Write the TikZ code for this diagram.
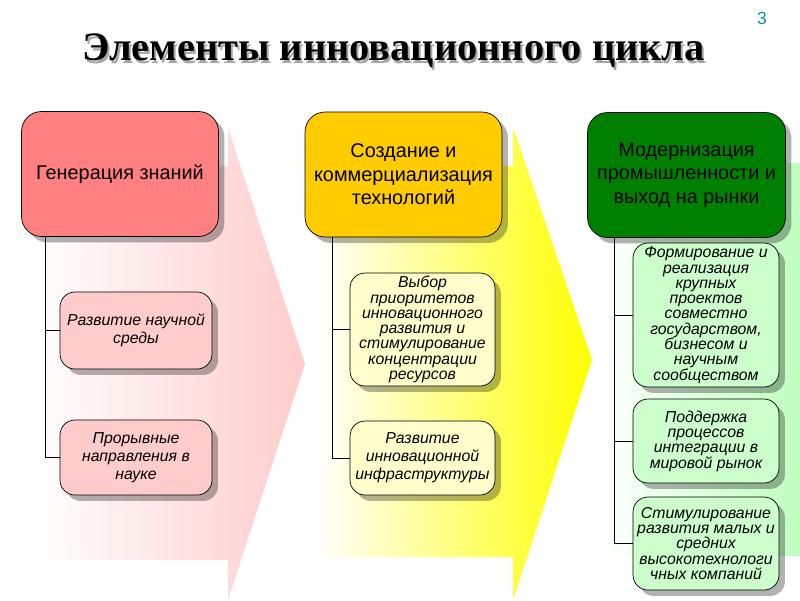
\documentclass[tikz,border=0pt]{standalone}
\usepackage{fontspec}
\setmainfont{Liberation Sans}
\newfontfamily\titlefont{Liberation Serif}
\usepackage{tikz}
\usetikzlibrary{shadows}
\definecolor{genred}{RGB}{255,128,128}
\definecolor{subred}{RGB}{255,204,204}
\definecolor{techgold}{RGB}{255,204,0}
\definecolor{subyellow}{RGB}{255,255,204}
\definecolor{modgreen}{RGB}{0,128,0}
\definecolor{subgreen}{RGB}{204,255,204}
\definecolor{pagenum}{RGB}{0,153,153}
\tikzset{
    stage/.style={
           rectangle, rounded corners=0.4cm,
           draw=black, thin,
           minimum width=3.94cm, minimum height=2.5cm,
           align=center, text=black,
           font=\fontsize{11.3}{13.3}\selectfont,
           drop shadow={shadow xshift=3.4pt, shadow yshift=-3.4pt, fill=black, opacity=0.3},
           },
    substep/.style={
           rectangle, rounded corners=0.3cm,
           draw=black, thin,
           align=center, text=black, inner sep=1pt,
           font=\itshape\fontsize{9}{8.7}\selectfont,
           drop shadow={shadow xshift=3.4pt, shadow yshift=-3.4pt, fill=black, opacity=0.3},
           },
    link/.style={black, thin},
    linkshade/.style={gray!35, thin, xshift=4pt, yshift=-4pt},
    heading/.style={font=\titlefont\bfseries\fontsize{23}{26}\selectfont},
}

\begin{document}
\begin{tikzpicture}[x=0.02cm, y=-0.02cm]
\useasboundingbox[fill=white] (0,0) rectangle (800,600);
% background arrows
\shade[left color=white, right color=red!20] (30,166) -- (228,166) -- (228,128) -- (305,364) -- (228,600) -- (228,560) -- (30,560) -- cycle;
\shade[left color=white, right color=yellow] (315,166) -- (513,166) -- (513,127) -- (592,360) -- (513,600) -- (513,557) -- (315,557) -- cycle;
\shade[left color=white, right color=green!25] (600,163) rectangle (800,555);
% title
\node[heading, gray!70] (titleshade) at (395.5,53.5) {Элементы инновационного цикла};
\node[heading] (title) at (393.5,51) {Элементы инновационного цикла};
\node[pagenum, font=\fontsize{10}{12}\selectfont] (page) at (762,18) {3};
% stages
\node[stage, fill=genred] (gen) at (120,174) {Генерация знаний};
\node[stage, fill=techgold] (tech) at (403.5,174.5) {Создание и\\коммерциализация\\технологий};
\node[stage, fill=modgreen, minimum width=3.96cm] (mod) at (686.5,175) {Модернизация\\промышленности и\\выход на рынки};
% sub steps
\node[substep, fill=subred, minimum width=3.04cm, minimum height=1.54cm, font=\itshape\fontsize{9}{10.2}\selectfont] (gen1) at (136,330.5) {Развитие научной\\среды};
\node[substep, fill=subred, minimum width=3.04cm, minimum height=1.5cm, font=\itshape\fontsize{9}{10.2}\selectfont] (gen2) at (136,457.5) {Прорывные\\направления в\\науке};
\node[substep, fill=subyellow, minimum width=2.9cm, minimum height=2.26cm] (tech1) at (422.5,329.5) {Выбор\\приоритетов\\инновационного\\развития и\\стимулирование\\концентрации\\ресурсов};
\node[substep, fill=subyellow, minimum width=2.9cm, minimum height=1.48cm, font=\itshape\fontsize{9}{10.2}\selectfont] (tech2) at (422.5,458) {Развитие\\инновационной\\инфраструктуры};
\node[substep, fill=subgreen, minimum width=2.92cm, minimum height=2.88cm] (mod1) at (706,315) {Формирование и\\реализация\\крупных\\проектов\\совместно\\государством,\\бизнесом и\\научным\\сообществом};
\node[substep, fill=subgreen, minimum width=2.92cm, minimum height=1.68cm] (mod2) at (706,441) {Поддержка\\процессов\\интеграции в\\мировой рынок};
\node[substep, fill=subgreen, minimum width=2.92cm, minimum height=1.86cm] (mod3) at (706,543.5) {Стимулирование\\развития малых и\\средних\\высокотехнологи\\чных компаний};
% connectors
\coordinate (gentrunk) at (45,237);
\coordinate (techtrunk) at (332,237);
\coordinate (modtrunk) at (614,238);
\draw[linkshade] (gentrunk) |- (gen1.west);
\draw[linkshade] (gentrunk) |- (gen2.west);
\draw[linkshade] (techtrunk) |- (tech1.west);
\draw[linkshade] (techtrunk) |- (tech2.west);
\draw[linkshade] (modtrunk) |- (mod1.west);
\draw[linkshade] (modtrunk) |- (mod2.west);
\draw[linkshade] (modtrunk) |- (mod3.west);
\draw[link] (gentrunk) |- (gen1.west);
\draw[link] (gentrunk) |- (gen2.west);
\draw[link] (techtrunk) |- (tech1.west);
\draw[link] (techtrunk) |- (tech2.west);
\draw[link] (modtrunk) |- (mod1.west);
\draw[link] (modtrunk) |- (mod2.west);
\draw[link] (modtrunk) |- (mod3.west);
\end{tikzpicture}
\end{document}
